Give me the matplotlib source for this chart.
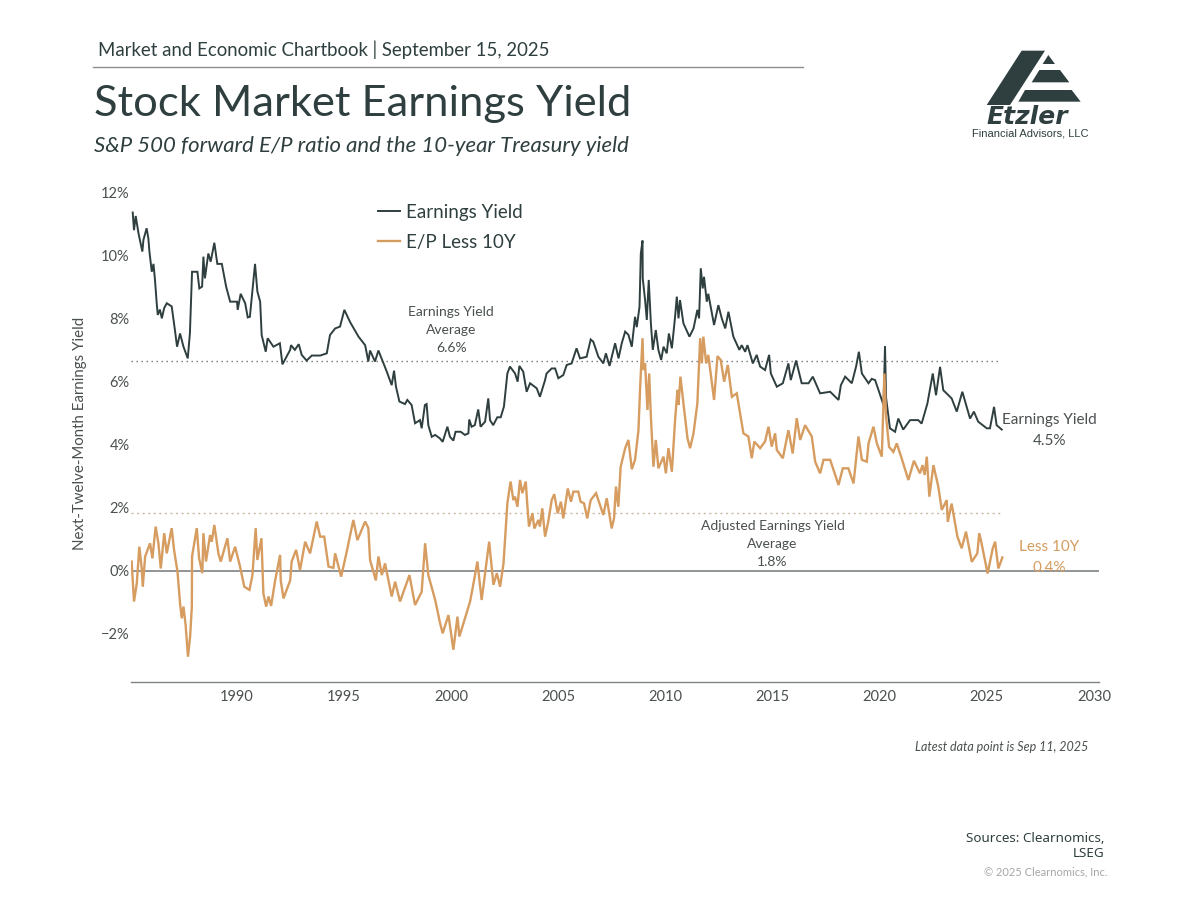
import matplotlib
matplotlib.use("Agg")
import matplotlib.pyplot as plt
from matplotlib.patches import Polygon

FONT = "Lato"
DARK = "#2f3f3f"
ORANGE = "#d69c60"
GRAY = "#4a4f4f"

ey_years = [1985.13,1985.19,1985.27,1985.40,1985.58,1985.63,1985.78,1985.86,1985.91,1986.02,1986.10,1986.17,1986.25,1986.30,
1986.40,1986.49,1986.60,1986.72,1986.95,1987.10,1987.20,1987.34,1987.50,1987.70,1987.80,1987.90,1988.15,1988.24,1988.37,1988.43,
1988.50,1988.66,1988.77,1988.94,1989.08,1989.29,1989.49,1989.68,1990.00,1990.03,1990.17,1990.38,1990.50,1990.60,1990.69,1990.84,
1990.95,1991.08,1991.15,1991.34,1991.43,1991.70,1992.00,1992.12,1992.48,1992.52,1992.70,1992.88,1993.02,1993.25,1993.49,1993.88,
1994.19,1994.34,1994.58,1994.81,1995.01,1995.28,1995.67,1995.98,1996.13,1996.21,1996.44,1996.60,1996.99,1997.22,1997.33,1997.42,
1997.58,1997.84,1997.95,1998.15,1998.31,1998.54,1998.62,1998.77,1998.85,1998.93,1999.09,1999.25,1999.47,1999.60,1999.82,1999.94,
2000.10,2000.20,2000.44,2000.64,2000.80,2000.84,2000.95,2001.10,2001.26,2001.37,2001.58,2001.73,2001.81,2001.96,2002.15,2002.31,
2002.46,2002.62,2002.74,2002.98,2003.10,2003.18,2003.36,2003.52,2003.68,2003.99,2004.14,2004.38,2004.45,2004.69,2004.85,2005.00,
2005.23,2005.39,2005.62,2005.85,2006.01,2006.32,2006.51,2006.63,2006.87,2007.10,2007.22,2007.39,2007.65,2007.81,2007.96,2008.12,
2008.27,2008.43,2008.58,2008.66,2008.79,2008.85,2008.93,2008.94,2009.05,2009.13,2009.22,2009.32,2009.41,2009.55,2009.67,2009.80,
2009.91,2010.06,2010.16,2010.30,2010.45,2010.53,2010.61,2010.68,2010.84,2011.12,2011.31,2011.49,2011.57,2011.65,2011.74,2011.80,
2011.93,2012.00,2012.27,2012.47,2012.63,2012.79,2012.94,2013.17,2013.45,2013.56,2013.72,2013.83,2014.08,2014.26,2014.42,2014.65,
2014.84,2014.92,2015.20,2015.48,2015.74,2015.85,2016.10,2016.36,2016.68,2016.88,2017.22,2017.69,2018.08,2018.19,2018.39,2018.70,
2018.90,2019.03,2019.17,2019.48,2019.63,2019.79,2020.18,2020.25,2020.30,2020.48,2020.72,2020.87,2021.10,2021.42,2021.80,2021.96,
2022.23,2022.48,2022.63,2022.82,2022.97,2023.36,2023.60,2023.86,2024.22,2024.40,2024.60,2025.00,2025.15,2025.34,2025.46,2025.70]
ey_values = [11.38,10.82,11.27,10.72,10.14,10.51,10.88,10.56,10.14,9.50,9.75,9.24,8.50,8.13,
8.30,8.02,8.35,8.50,8.40,7.65,7.12,7.54,7.12,6.75,7.55,9.50,9.50,8.97,9.03,9.98,
9.29,10.08,9.82,10.42,9.75,9.75,9.03,8.55,8.55,8.29,8.80,8.50,8.05,8.07,8.71,9.75,
8.87,8.55,7.49,6.96,7.39,7.12,7.23,6.56,7.02,7.17,7.02,7.20,6.86,6.68,6.84,6.84,
6.91,7.49,7.70,7.76,8.29,7.90,7.44,7.17,6.65,7.00,6.65,7.00,6.33,5.90,6.36,5.85,
5.38,5.30,5.43,5.27,4.69,4.79,4.53,5.27,5.30,4.63,4.26,4.32,4.21,4.10,4.58,4.26,
4.14,4.42,4.42,4.32,4.37,4.81,4.58,4.63,5.13,4.58,4.74,5.48,4.79,4.63,4.88,4.88,
5.22,6.27,6.49,6.27,6.01,6.51,6.33,5.69,5.96,5.80,5.53,6.06,6.27,6.43,6.43,6.12,
6.22,6.54,6.59,7.07,6.75,6.80,7.35,7.28,6.80,6.59,6.91,6.51,7.23,6.75,7.23,7.60,
7.50,7.12,8.07,7.74,8.39,10.08,10.49,9.29,8.60,7.97,9.24,7.86,7.02,7.65,7.02,6.70,
7.12,6.91,7.54,7.07,8.07,8.71,8.02,8.60,7.86,7.44,7.70,8.29,8.02,9.61,8.97,9.34,
8.55,8.80,7.81,8.44,8.02,7.70,8.23,7.44,7.02,7.17,6.96,7.17,6.59,6.86,6.49,6.38,
6.86,6.27,5.85,5.96,6.59,6.06,6.68,5.96,5.96,6.17,5.64,5.69,5.43,5.90,6.17,5.96,
6.49,6.96,6.27,5.96,6.10,6.06,5.27,7.14,5.50,4.53,4.42,4.84,4.49,4.79,4.79,4.68,
5.32,6.27,5.58,6.48,5.74,5.48,5.06,5.69,4.84,5.06,4.74,4.53,4.53,5.21,4.63,4.49]

ep_years = [1985.08,1985.19,1985.32,1985.44,1985.55,1985.60,1985.71,1985.94,1986.05,1986.20,1986.33,1986.44,1986.60,1986.72,1986.95,
1987.06,1987.22,1987.34,1987.42,1987.50,1987.60,1987.71,1987.81,1987.89,1987.90,1988.12,1988.23,1988.38,1988.43,1988.55,1988.74,
1988.82,1988.94,1989.13,1989.24,1989.55,1989.68,1989.91,1990.14,1990.34,1990.58,1990.72,1990.87,1990.95,1991.14,1991.23,1991.36,
1991.47,1991.59,1991.78,1992.01,1992.04,1992.17,1992.48,1992.55,1992.76,1992.94,1993.18,1993.41,1993.72,1993.88,1994.07,1994.27,
1994.50,1994.58,1994.86,1995.12,1995.43,1995.62,1995.98,1996.13,1996.21,1996.48,1996.60,1996.76,1996.91,1997.22,1997.38,1997.61,
1998.05,1998.31,1998.62,1998.78,1998.93,1999.25,1999.48,1999.60,1999.87,2000.10,2000.29,2000.38,2000.57,2000.88,2001.04,2001.22,
2001.42,2001.77,2001.97,2002.13,2002.28,2002.44,2002.54,2002.62,2002.77,2002.90,2002.98,2003.09,2003.21,2003.32,2003.48,2003.55,
2003.63,2003.79,2003.88,2004.07,2004.14,2004.25,2004.38,2004.53,2004.69,2004.81,2004.97,2005.12,2005.23,2005.44,2005.59,2005.70,
2005.93,2006.04,2006.20,2006.35,2006.51,2006.76,2006.94,2007.10,2007.26,2007.49,2007.60,2007.69,2007.80,2007.91,2008.12,2008.27,
2008.43,2008.58,2008.74,2008.82,2008.93,2008.97,2009.05,2009.16,2009.24,2009.32,2009.44,2009.55,2009.67,2009.91,2010.02,2010.14,
2010.30,2010.45,2010.56,2010.61,2010.70,2010.84,2011.03,2011.15,2011.31,2011.49,2011.62,2011.70,2011.77,2011.90,2012.00,2012.27,
2012.43,2012.58,2012.74,2012.91,2013.10,2013.33,2013.64,2013.87,2014.03,2014.15,2014.42,2014.65,2014.81,2014.96,2015.12,2015.20,
2015.48,2015.74,2015.94,2016.13,2016.29,2016.52,2016.83,2016.99,2017.22,2017.38,2017.69,2018.08,2018.28,2018.54,2018.78,2019.01,
2019.17,2019.40,2019.48,2019.71,2019.87,2020.10,2020.22,2020.30,2020.44,2020.64,2020.80,2021.03,2021.34,2021.60,2021.88,2022.00,
2022.10,2022.20,2022.32,2022.51,2022.74,2022.90,2023.13,2023.18,2023.36,2023.63,2023.83,2024.03,2024.30,2024.56,2024.65,2024.76,
2025.04,2025.28,2025.39,2025.54,2025.73]
ep_values = [0.30,-0.97,-0.39,0.77,0.08,-0.50,0.46,0.88,0.40,1.41,0.88,0.08,1.20,0.56,1.36,
0.67,-0.02,-1.03,-1.50,-1.13,-1.71,-2.72,-2.08,-1.13,0.46,1.36,0.40,-0.07,1.20,0.30,1.14,
0.93,1.46,0.56,0.30,1.04,0.30,0.77,0.14,-0.50,-0.60,-0.13,1.36,0.35,1.04,-0.71,-1.13,
-0.81,-1.11,-0.30,0.51,-0.30,-0.87,-0.30,0.30,0.67,0.03,0.93,0.56,1.57,1.09,1.09,0.14,
0.10,0.56,-0.18,0.61,1.62,0.98,1.57,1.36,0.35,-0.30,0.46,-0.13,0.24,-0.81,-0.34,-0.97,
-0.13,-1.08,-0.66,0.88,-0.13,-0.92,-1.66,-1.98,-1.40,-2.50,-1.45,-2.08,-1.66,-0.97,-0.39,0.30,
-0.92,0.93,-0.44,-0.07,-0.50,0.24,1.30,2.15,2.84,2.25,2.36,2.04,2.89,2.47,2.84,2.10,
1.41,1.83,1.35,1.62,1.41,1.99,1.09,1.57,2.25,2.44,1.83,2.20,1.67,2.62,2.20,2.52,
2.52,2.20,2.15,1.67,2.25,2.47,2.10,1.78,2.31,1.35,1.67,2.68,2.04,3.31,3.90,4.16,
3.23,3.53,4.47,5.85,7.39,6.38,6.59,5.11,6.27,4.90,3.31,4.16,3.26,3.63,3.10,3.90,
3.15,4.79,5.75,5.27,6.17,5.32,4.21,3.90,4.37,5.32,7.39,6.59,7.44,6.59,6.86,5.43,
6.82,6.70,6.01,6.54,5.53,5.64,4.37,4.27,3.58,4.11,3.90,4.11,4.58,3.95,4.37,3.84,
3.58,4.47,3.73,4.85,4.16,4.63,4.27,3.47,3.10,3.53,3.53,2.73,3.26,3.26,2.78,4.27,
3.53,3.47,4.05,4.58,4.05,3.63,6.27,4.90,3.94,3.78,4.05,3.57,2.89,3.50,3.10,3.36,
3.05,3.63,2.36,3.36,2.67,1.94,2.25,1.56,2.14,1.09,0.72,1.25,0.29,0.56,1.20,0.87,
-0.08,0.72,0.93,0.08,0.43]

ey_average = 6.67
ep_average = 1.84
avg_span = [1985.05, 2025.6]
x_ticks = [1990, 1995, 2000, 2005, 2010, 2015, 2020, 2025, 2030]
y_ticks = [-2, 0, 2, 4, 6, 8, 10, 12]
y_tick_labels = ["\u22122%", "0%", "2%", "4%", "6%", "8%", "10%", "12%"]

W, H = 1200, 900
def fx(px): return px / W
def fy(py): return 1 - py / H

plt.rcParams["font.family"] = [FONT, "DejaVu Sans"]
fig = plt.figure(figsize=(12, 9), dpi=100)
ax = fig.add_axes([fx(131), fy(682), (1099 - 131) / W, (682 - 193) / H])

ax.plot(avg_span, [ey_average] * 2, color="#6e7474", lw=1.0, ls=(0, (1, 2.6)))
ax.plot(avg_span, [ep_average] * 2, color="#c9b8a4", lw=1.0, ls=(0, (1.5, 2.5)))
ax.axhline(0, color="#7f8383", lw=1.2)
l1, = ax.plot(ey_years, ey_values, color=DARK, lw=1.4, solid_joinstyle="miter")
l2, = ax.plot(ep_years, ep_values, color=ORANGE, lw=1.7, solid_joinstyle="miter")

ax.set_xlim(1985.05, 2030.24)
ax.set_ylim(-3.524, 12)
ax.set_xticks(x_ticks)
ax.set_yticks(y_ticks)
ax.set_yticklabels(y_tick_labels)
ax.tick_params(axis="both", length=0, labelsize=10.5, labelcolor=GRAY)
ax.tick_params(axis="x", pad=6)
ax.tick_params(axis="y", pad=1)
for s in ["top", "right", "left"]:
    ax.spines[s].set_visible(False)
ax.spines["bottom"].set_color("#7f8383")
ax.spines["bottom"].set_linewidth(1.0)
ax.patch.set_alpha(0)
ax.set_ylabel("Next-Twelve-Month Earnings Yield", fontsize=10.8, color=GRAY)
ax.yaxis.set_label_coords((87 - 131) / 968, (682 - 433) / 489)

leg = ax.legend([l1, l2], ["Earnings Yield", "E/P Less 10Y"], loc="upper left",
                bbox_to_anchor=((378 - 131) / 968, (682 - 204) / 489), frameon=False, fontsize=13.5,
                handlelength=1.17, handletextpad=0.32, labelspacing=0.68, borderpad=0, borderaxespad=0)
for t in leg.get_texts():
    t.set_color(DARK)

ax.text(2000.0, 7.65, "Earnings Yield\nAverage\n6.6%", ha="center", va="center", fontsize=10, color=GRAY, linespacing=1.6)
ax.text(2015.0, 0.86, "Adjusted Earnings Yield\nAverage\n1.8%", ha="center", va="center", fontsize=10, color=GRAY, linespacing=1.6)
ax.text(2027.92, 4.45, "Earnings Yield\n4.5%", ha="center", va="center", fontsize=11, color=GRAY, linespacing=1.65)
ax.text(2027.92, 0.42, "Less 10Y\n0.4%", ha="center", va="center", fontsize=11, color=ORANGE, linespacing=1.65)

fig.text(fx(98), fy(50), "Market and Economic Chartbook | September 15, 2025", fontsize=13.45, color=DARK, va="center", ha="left")
fig.add_artist(plt.Line2D([fx(93), fx(803)], [fy(67), fy(67)], color="#8a8f8a", lw=1.0))
fig.text(fx(94), fy(104), "Stock Market Earnings Yield", fontsize=31.3, color=DARK, va="center", ha="left")
fig.text(fx(94), fy(146), "S&P 500 forward E/P ratio and the 10-year Treasury yield", fontsize=15.95, style="italic", color=DARK, va="center", ha="left")
fig.text(fx(1088), fy(747), "Latest data point is Sep 11, 2025", fontsize=9, style="italic", color=GRAY, va="center", ha="right")
fig.text(fx(1105), fy(846), "Sources: Clearnomics,\nLSEG", fontsize=9.7, color=DARK, va="center", ha="right", family=["Noto Sans", "DejaVu Sans"], linespacing=1.15)
fig.text(fx(1107), fy(872), "\u00a9 2025 Clearnomics, Inc.", fontsize=8, color="#a5a8a8", va="center", ha="right")

# logo
def logo(pts):
    return [(fx(950 + x / 3), fy(30 + y / 3)) for x, y in pts]
for poly in [[(215, 62), (285, 62), (180, 225), (110, 225)],
             [(295, 75), (315, 102), (278, 102)],
             [(268, 120), (330, 120), (358, 157), (245, 157)],
             [(225, 180), (365, 180), (392, 215), (205, 215)]]:
    fig.add_artist(Polygon(logo(poly), closed=True, transform=fig.transFigure, facecolor=DARK, edgecolor="none"))
fig.text(fx(1027), fy(124), "Etzler", fontsize=18, weight="bold", style="italic", color=DARK, va="baseline", ha="center",
         family=["DejaVu Sans"])
fig.text(fx(1030), fy(133), "Financial Advisors, LLC", fontsize=8, color=DARK, va="center", ha="center", family=["Liberation Sans"])

fig.savefig("out.png", dpi=100)
